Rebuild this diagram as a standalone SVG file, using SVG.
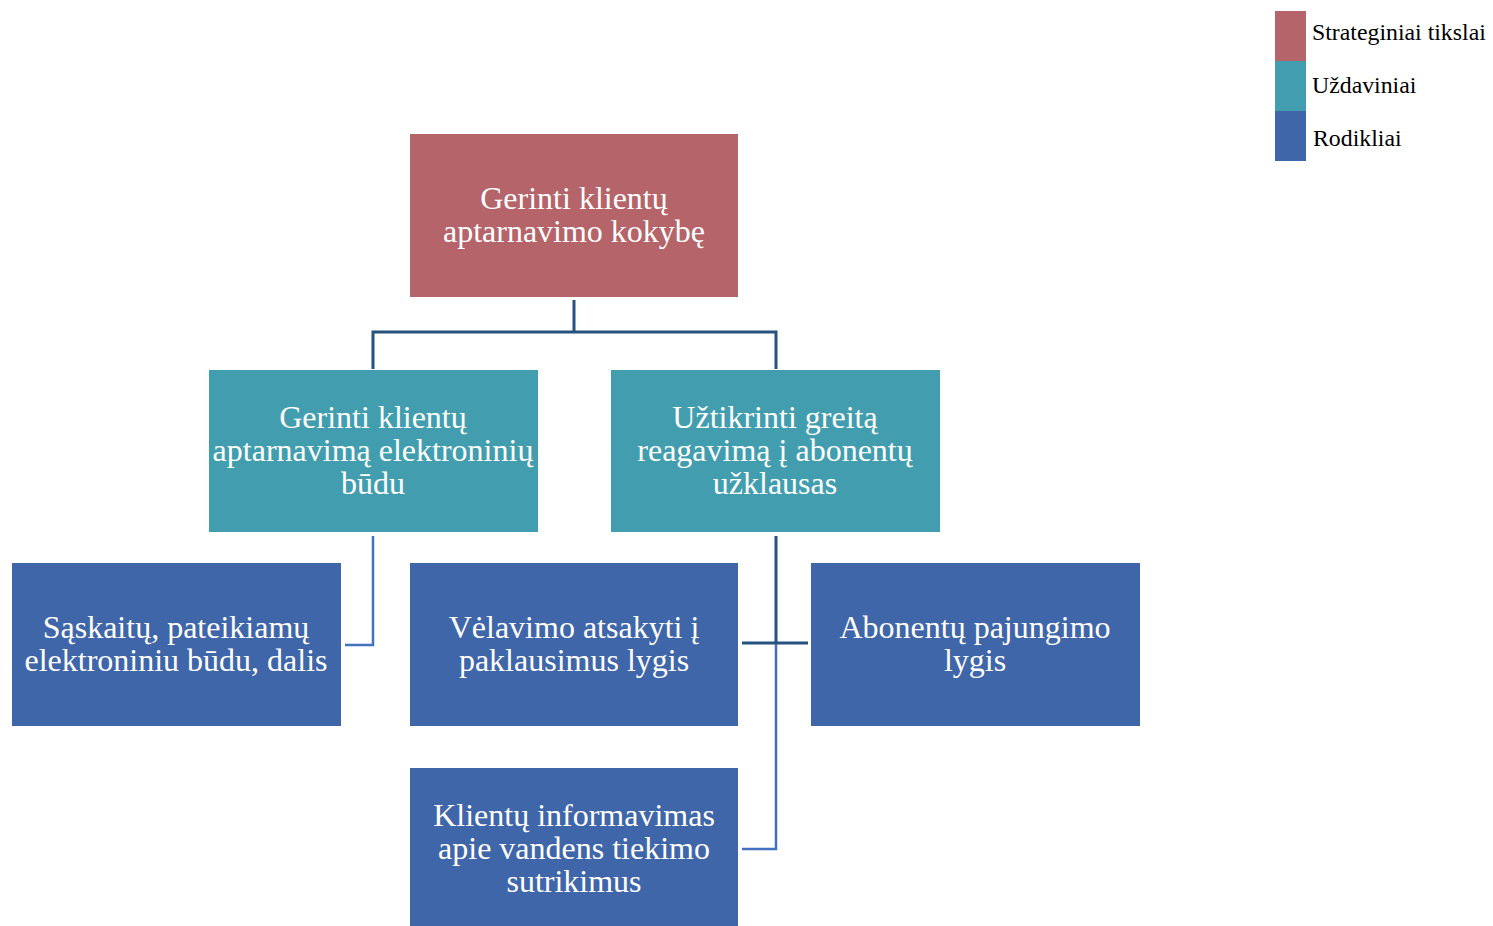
<svg xmlns="http://www.w3.org/2000/svg" width="1493" height="926" viewBox="0 0 1493 926">
<style>
.t{font-family:"Liberation Serif","Times New Roman",serif;font-size:32px;fill:#fff;text-anchor:middle}
.l{font-family:"Liberation Serif","Times New Roman",serif;font-size:23.8px;fill:#000}
.r{fill:#B5646A}.g{fill:#429EAF}.b{fill:#4066AA}
.dk{stroke:#25527F;stroke-width:3;fill:none}
.lt{stroke:#4470C0;stroke-width:2.5;fill:none}
</style>
<rect width="1493" height="926" fill="#fff"/>
<g id="connectors">
<path class="dk" d="M574,300 V332 M373,369 V332 H776 V369"/>
<path class="lt" d="M373,536 V645 H345"/>
<path class="lt" d="M776,643 V849 H742"/>
<path class="dk" d="M776,536 V643 M742,643 H808"/>
</g>
<g id="legend">
<rect class="r" x="1275" y="11" width="31" height="50"/>
<rect class="g" x="1275" y="61" width="31" height="50"/>
<rect class="b" x="1275" y="111" width="31" height="50"/>
<text class="l" x="1312" y="40">Strateginiai tikslai</text>
<text class="l" x="1312" y="93">Uždaviniai</text>
<text class="l" x="1313" y="146">Rodikliai</text>
</g>
<g id="n1"><rect class="r" x="410" y="134" width="328" height="163"/>
<text class="t" x="574" y="209">Gerinti klientų</text><text class="t" x="574" y="242">aptarnavimo kokybę</text></g>
<g id="n2"><rect class="g" x="209" y="370" width="329" height="162"/>
<text class="t" x="373" y="428">Gerinti klientų</text><text class="t" x="373" y="461">aptarnavimą elektroninių</text><text class="t" x="373" y="494">būdu</text></g>
<g id="n3"><rect class="g" x="611" y="370" width="329" height="162"/>
<text class="t" x="775" y="428">Užtikrinti greitą</text><text class="t" x="775" y="461">reagavimą į abonentų</text><text class="t" x="775" y="494">užklausas</text></g>
<g id="n4"><rect class="b" x="12" y="563" width="329" height="163"/>
<text class="t" x="176" y="638">Sąskaitų, pateikiamų</text><text class="t" x="176" y="671">elektroniniu būdu, dalis</text></g>
<g id="n5"><rect class="b" x="410" y="563" width="328" height="163"/>
<text class="t" x="574" y="638">Vėlavimo atsakyti į</text><text class="t" x="574" y="671">paklausimus lygis</text></g>
<g id="n6"><rect class="b" x="811" y="563" width="329" height="163"/>
<text class="t" x="975" y="638">Abonentų pajungimo</text><text class="t" x="975" y="671">lygis</text></g>
<g id="n7"><rect class="b" x="410" y="768" width="328" height="158"/>
<text class="t" x="574" y="826">Klientų informavimas</text><text class="t" x="574" y="859">apie vandens tiekimo</text><text class="t" x="574" y="892">sutrikimus</text></g>
</svg>
